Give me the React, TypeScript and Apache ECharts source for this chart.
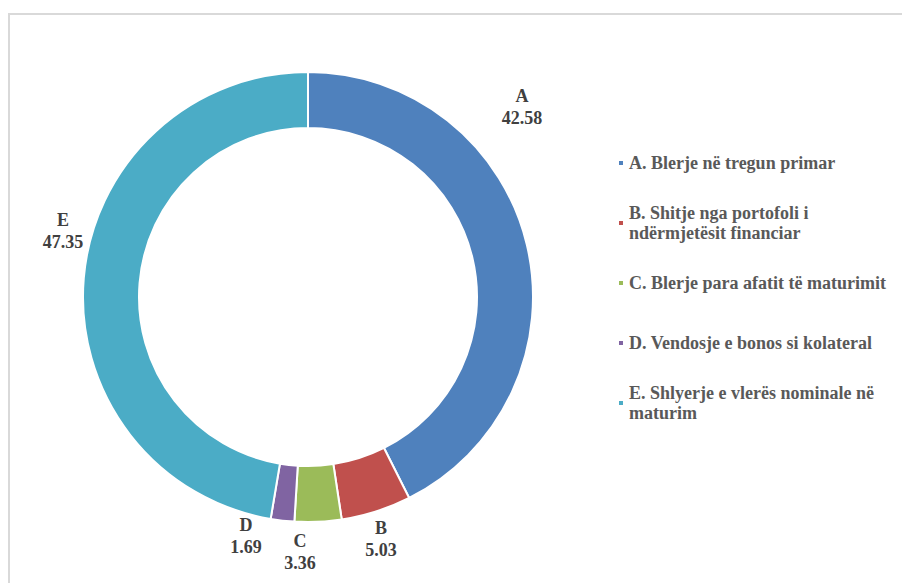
import React, { useEffect, useRef } from "react";
import * as echarts from "echarts";

const categories = [
  "A. Blerje në tregun primar",
  "B. Shitje nga portofoli i\nndërmjetësit financiar",
  "C. Blerje para afatit të maturimit",
  "D. Vendosje e bonos si kolateral",
  "E. Shlyerje e vlerës nominale në\nmaturim",
];
const shortLabels = ["A", "B", "C", "D", "E"];
const values = [42.58, 5.03, 3.36, 1.69, 47.35];
const colors = ["#4F81BD", "#C0504D", "#9BBB59", "#8064A2", "#4BACC6"];

// label block centres (chart coordinates)
const labelPos: [number, number][] = [
  [514, 99],
  [373, 531],
  [292, 544],
  [238, 528],
  [55, 223],
];
const legendTops = [145, 185, 265, 325, 365];

const FONT = "Liberation Serif, Times New Roman, serif";

export default function App() {
  const ref = useRef<HTMLDivElement>(null);
  useEffect(() => {
    if (!ref.current) return;
    const chart = echarts.init(ref.current, undefined, { renderer: "svg" });
    const legends = categories.map((name, i) => {
      const twoLine = name.indexOf("\n") >= 0;
      return {
        orient: "vertical",
        left: 609,
        top: legendTops[i],
        padding: 0,
        itemWidth: 6,
        itemHeight: 6,
        itemGap: 0,
        icon: "rect",
        selectedMode: false,
        data: [
          {
            name,
            textStyle: twoLine ? { padding: [20, 0, 0, 0] } : {},
          },
        ],
        textStyle: {
          fontFamily: FONT,
          fontWeight: "bold",
          fontSize: 18,
          lineHeight: 20,
          color: "#595959",
        },
      };
    });
    chart.setOption({
      animation: false,
      color: colors,
      textStyle: { fontFamily: FONT },
      legend: legends,
      graphic: [
        {
          type: "rect",
          silent: true,
          shape: { x: 1, y: 6, width: 2000, height: 2000 },
          style: { fill: "none", stroke: "#d9d9d9", lineWidth: 2 },
        },
      ],
      series: [
        {
          type: "pie",
          radius: [169, 225],
          center: [300, 289],
          startAngle: 90,
          clockwise: true,
          silent: true,
          data: categories.map((name, i) => ({ name, value: values[i] })),
          itemStyle: { borderColor: "#ffffff", borderWidth: 2 },
          label: {
            show: true,
            position: "outside",
            overflow: "none",
            formatter: (p: any) => `${shortLabels[p.dataIndex]}\n${values[p.dataIndex].toFixed(2)}`,
            fontFamily: FONT,
            fontWeight: "bold",
            fontSize: 18,
            lineHeight: 22,
            color: "#404040",
            align: "center",
          },
          labelLine: { show: false },
          labelLayout: (params: any) => ({
            x: labelPos[params.dataIndex][0],
            y: labelPos[params.dataIndex][1],
            align: "center",
            verticalAlign: "middle",
          }),
        },
      ],
    });
    return () => chart.dispose();
  }, []);
  return <div ref={ref} style={{ width: 902, height: 575 }} />;
}
